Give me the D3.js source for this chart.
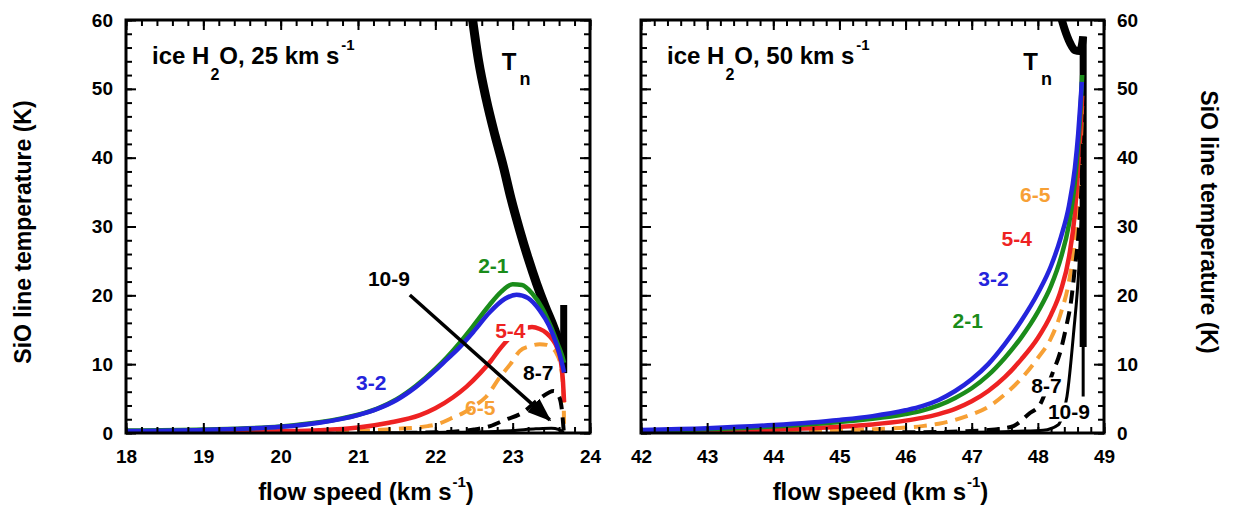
<!DOCTYPE html>
<html><head><meta charset="utf-8">
<script src="https://cdn.jsdelivr.net/npm/d3@7"></script>
<style>
body{margin:0;background:#fff}
svg{display:block}
text{font-family:"Liberation Sans",Arial,Helvetica,sans-serif;font-weight:bold;fill:#000}
</style>
</head><body>
<svg id="c" width="1236" height="508"></svg>
<script>
// ---------- tick labels ----------
const xTicksLeft = [18, 19, 20, 21, 22, 23, 24];
const xTicksRight = [42, 43, 44, 45, 46, 47, 48, 49];
const yTicks = [0, 10, 20, 30, 40, 50, 60];

// ---------- left panel: ice H2O, 25 km/s  [flow speed, temperature] ----------
const L_Tn = [[22.47,61],[22.56,54],[22.66,48.4],[22.77,43.3],[22.88,38.7],[22.98,34],[23.09,29.5],[23.2,25.4],[23.31,21.7],[23.42,18.4],[23.53,15.4],[23.6,13.2],[23.645,11.5]];
const L_TnBar = [[23.66,8.7],[23.66,18.6]];
const L_21 = [[18,0.35],[19,0.5],[20,0.95],[20.5,1.55],[21,2.65],[21.25,3.55],[21.5,4.9],[21.75,6.85],[22.0,9.3],[22.15,11.0],[22.3,12.9],[22.5,15.7],[22.7,18.6],[22.85,20.5],[23.0,21.6],[23.12,21.5],[23.25,20.3],[23.38,18.2],[23.5,15.3],[23.58,13.0],[23.64,11.2],[23.665,10.2]];
const L_32 = [[18,0.3],[19,0.45],[20,0.9],[20.5,1.5],[21,2.6],[21.25,3.5],[21.5,4.8],[21.75,6.7],[22.0,9.1],[22.15,10.7],[22.3,12.3],[22.5,14.8],[22.7,17.5],[22.9,19.5],[23.05,20.1],[23.2,19.6],[23.35,17.8],[23.47,15.6],[23.57,12.8],[23.63,10.5],[23.665,8.8]];
const L_54 = [[18,0.05],[19,0.1],[20,0.25],[20.5,0.4],[21,0.8],[21.4,1.5],[21.8,2.6],[22.0,3.6],[22.23,5.2],[22.4,6.7],[22.58,8.7],[22.72,10.5],[22.84,12.3],[22.97,13.9],[23.1,15.0],[23.25,15.4],[23.35,15.1],[23.44,14.5],[23.52,13.5],[23.57,12.5],[23.62,10.6],[23.65,7.6],[23.665,4.5]];
const L_65 = [[18,0.02],[19,0.04],[20,0.1],[21,0.3],[21.5,0.6],[21.9,1.0],[22.06,1.4],[22.2,2.1],[22.36,2.9],[22.5,3.9],[22.66,5.3],[22.84,8.2],[22.97,10.0],[23.09,11.9],[23.22,12.6],[23.35,12.9],[23.44,12.8],[23.5,12.4],[23.57,11.5],[23.62,9.8],[23.65,7],[23.662,3],[23.665,0.2]];
const L_87 = [[21.6,0.03],[22.0,0.1],[22.3,0.25],[22.5,0.5],[22.71,1.0],[22.9,1.9],[23.12,2.9],[23.35,5.0],[23.53,6.1],[23.6,5.3],[23.64,3],[23.66,0.3]];
const L_109 = [[21.0,0.02],[22.0,0.08],[22.5,0.15],[23.0,0.35],[23.3,0.6],[23.5,0.7],[23.6,0.5],[23.66,0.1]];
const L_arrow = [[21.67,20.05],[23.48,1.9]];

// ---------- right panel: ice H2O, 50 km/s ----------
const R_Tn = [[48.32,61.5],[48.4,58.8],[48.49,56.6],[48.56,55.6],[48.63,55.5],[48.665,56.3],[48.685,57.6]];
const R_TnBar = [[48.685,57.6],[48.685,12.5]];
const R_TnTail = [[48.685,12.5],[48.685,5.3]];
const R_21 = [[42,0.35],[43,0.55],[44,0.95],[45,1.6],[45.5,2.05],[46,2.75],[46.25,3.25],[46.5,4.0],[46.75,5.1],[47,6.5],[47.25,8.4],[47.5,10.9],[47.75,13.9],[48,17.6],[48.2,21.4],[48.35,25.5],[48.47,30.3],[48.56,36.5],[48.61,42],[48.645,47],[48.67,52]];
const R_32 = [[42,0.45],[43,0.7],[44,1.16],[45,1.9],[45.5,2.45],[46,3.3],[46.25,3.9],[46.5,4.8],[46.75,6.1],[47,7.8],[47.25,10.0],[47.5,12.9],[47.75,16.3],[48,20.3],[48.2,24.3],[48.35,28.5],[48.47,33],[48.56,38.5],[48.61,43.5],[48.64,47.5],[48.665,51]];
const R_54 = [[42,0.15],[43,0.3],[44,0.5],[45,0.9],[45.5,1.25],[46,1.8],[46.25,2.2],[46.5,2.75],[46.75,3.5],[47,4.6],[47.25,6.1],[47.5,8.1],[47.75,10.7],[48,13.8],[48.2,17.2],[48.35,20.8],[48.47,25.5],[48.56,32],[48.61,38.7],[48.645,44],[48.67,49]];
const R_65 = [[42,0.05],[44,0.15],[45,0.35],[45.5,0.55],[46,0.8],[46.25,1.0],[46.5,1.35],[46.75,1.9],[47,2.7],[47.25,3.8],[47.5,5.6],[47.75,7.9],[48,10.9],[48.2,13.8],[48.35,17.5],[48.47,22],[48.56,28],[48.61,33.9],[48.645,41],[48.67,47.5]];
const R_87 = [[45,0.05],[46.5,0.15],[47.2,0.4],[47.5,0.7],[47.63,1.0],[47.88,2.9],[48.03,4.1],[48.13,6.3],[48.23,8.9],[48.33,11.5],[48.43,15.5],[48.5,19],[48.56,24],[48.62,29.5],[48.66,36],[48.68,42]];
const R_109 = [[45.5,0.02],[47,0.1],[47.7,0.25],[48.08,0.4],[48.31,1.2],[48.38,2.8],[48.44,5.3],[48.54,14.5],[48.62,24],[48.66,32],[48.69,40]];

// ---------- curve labels [text, speed, temperature] ----------
const L_labels = [["2-1",22.75,23.2],["10-9",21.4,21.3],["3-2",21.17,6.25],["5-4",22.97,13.8],["6-5",22.58,2.6],["8-7",23.33,7.7]];
const R_labels = [["6-5",47.96,33.6],["5-4",47.68,27.1],["3-2",47.33,21.3],["2-1",46.94,15.2],["8-7",48.13,5.75],["10-9",48.47,2.1]];
const L_TnLabel = [22.86,52.7];
const R_TnLabel = [47.78,52.7];

// ---------- styles ----------
const COL = {"2-1":"#1a8c1a","3-2":"#2424dc","5-4":"#ee2222","6-5":"#f7a035","8-7":"#000","10-9":"#000"};

const svg = d3.select("#c");
svg.append("rect").attr("width",1236).attr("height",508).attr("fill","#fff");
const defs = svg.append("defs");
defs.append("marker").attr("id","ah").attr("markerUnits","userSpaceOnUse")
  .attr("viewBox","0 0 24 18").attr("refX",22).attr("refY",9)
  .attr("markerWidth",24).attr("markerHeight",18).attr("orient","auto")
  .append("path").attr("d","M0,0 L24,9 L0,18 Z").attr("fill","#000");

const y = d3.scaleLinear().domain([0,60]).range([433,20]);

function drawPanel(cfg){
  const x = d3.scaleLinear().domain(cfg.domain).range(cfg.range);
  const g = svg.append("g");
  const cid = "clip"+cfg.id;
  defs.append("clipPath").attr("id",cid).append("rect")
    .attr("x",cfg.range[0]).attr("y",20).attr("width",cfg.range[1]-cfg.range[0]).attr("height",413);
  const plot = g.append("g").attr("clip-path",`url(#${cid})`);
  const line = d3.line().x(d=>x(d[0])).y(d=>y(d[1])).curve(d3.curveMonotoneX);
  const lin = d3.line().x(d=>x(d[0])).y(d=>y(d[1]));

  cfg.series.forEach(s=>{
    plot.append("path").datum(s.data).attr("d", s.linear?lin:line)
      .attr("fill","none").attr("stroke",s.color).attr("stroke-width",s.w)
      .attr("stroke-dasharray",s.dash||null).attr("stroke-linecap","butt")
      .attr("stroke-linejoin","round");
  });

  // labels
  const lg = g.append("g");
  cfg.labels.forEach(l=>{
    const t = lg.append("text").attr("x",x(l[1])).attr("y",y(l[2]))
      .attr("text-anchor","middle").attr("font-size",21)
      .style("fill",COL[l[0]]).text(l[0]);
    if(cfg.bg.includes(l[0])){
      const b = t.node().getBBox();
      lg.insert("rect","text").attr("x",b.x-2).attr("y",b.y+3).attr("width",b.width+4).attr("height",b.height-4).attr("fill","#fff");
    }
  });
  if(cfg.arrow){
    g.append("path").datum(cfg.arrow).attr("d",lin).attr("stroke","#000").attr("stroke-width",3.5)
      .attr("fill","none").attr("marker-end","url(#ah)");
  }
  // Tn label
  const tn = g.append("text").attr("x",x(cfg.tn[0])).attr("y",y(cfg.tn[1])).attr("font-size",24);
  tn.append("tspan").text("T");
  tn.append("tspan").attr("font-size",18).attr("dx",3).attr("dy",15).text("n");

  // title
  const tt = g.append("text").attr("x",cfg.range[0]+26).attr("y",64).attr("font-size",24);
  tt.append("tspan").text("ice H");
  tt.append("tspan").attr("font-size",16).attr("dx",1).attr("dy",16).text("2");
  tt.append("tspan").attr("dy",-16).text("O, "+cfg.speed+" km s");
  tt.append("tspan").attr("font-size",15).attr("dx",2).attr("dy",-14).text("-1");

  // axes (ticks inward)
  const xMinor = d3.range(cfg.domain[0], cfg.domain[1]+1e-6, 0.2);
  const yMinor = d3.range(0, 60.001, 2);
  const ax = g.append("g").attr("class","axes");
  const addAxis=(gen,tr)=>{const a=ax.append("g").attr("transform",tr).call(gen);a.select(".domain").remove();a.selectAll("line").attr("stroke","#000").attr("stroke-width",2);a.selectAll("text").attr("font-size",19).attr("font-family",null);return a;};
  addAxis(d3.axisBottom(x).tickValues(xMinor).tickSize(-6).tickFormat(""),`translate(0,433)`);
  addAxis(d3.axisBottom(x).tickValues(cfg.xTicks).tickSize(-10).tickPadding(17).tickFormat(d3.format("d")),`translate(0,433)`);
  addAxis(d3.axisTop(x).tickValues(xMinor).tickSize(-6).tickFormat(""),`translate(0,20)`);
  addAxis(d3.axisTop(x).tickValues(cfg.xTicks).tickSize(-10).tickFormat(""),`translate(0,20)`);
  addAxis(d3.axisLeft(y).tickValues(yMinor).tickSize(-6).tickFormat(""),`translate(${cfg.range[0]},0)`);
  addAxis(d3.axisLeft(y).tickValues(yTicks).tickSize(-10).tickPadding(13).tickFormat(cfg.yLeftLabels?d3.format("d"):""),`translate(${cfg.range[0]},0)`);
  addAxis(d3.axisRight(y).tickValues(yMinor).tickSize(-6).tickFormat(""),`translate(${cfg.range[1]},0)`);
  addAxis(d3.axisRight(y).tickValues(yTicks).tickSize(-10).tickPadding(13).tickFormat(cfg.yRightLabels?d3.format("d"):""),`translate(${cfg.range[1]},0)`);

  g.append("rect").attr("x",cfg.range[0]).attr("y",20).attr("width",cfg.range[1]-cfg.range[0]).attr("height",413)
    .attr("fill","none").attr("stroke","#000").attr("stroke-width",3);

  // x title
  const xt = g.append("text").attr("x",(cfg.range[0]+cfg.range[1])/2+8).attr("y",500).attr("text-anchor","middle").attr("font-size",24);
  xt.append("tspan").text("flow speed (km s");
  xt.append("tspan").attr("font-size",15).attr("dx",1).attr("dy",-13).text("-1");
  xt.append("tspan").attr("dy",13).text(")");
}

drawPanel({id:"L",domain:[18,24],range:[126,590],xTicks:xTicksLeft,speed:25,yLeftLabels:true,yRightLabels:false,
  series:[
    {data:L_Tn,color:"#000",w:9},
    {data:L_TnBar,color:"#000",w:7,linear:true},
    {data:L_65,color:COL["6-5"],w:4,dash:"13,8"},
    {data:L_54,color:COL["5-4"],w:4.5},
    {data:L_21,color:COL["2-1"],w:4.5},
    {data:L_32,color:COL["3-2"],w:4.5},
    {data:L_87,color:"#000",w:4,dash:"13,8"},
    {data:L_109,color:"#000",w:3}
  ],
  labels:L_labels,bg:["5-4"],arrow:L_arrow,tn:L_TnLabel});

drawPanel({id:"R",domain:[42,49],range:[641,1104],xTicks:xTicksRight,speed:50,yLeftLabels:false,yRightLabels:true,
  series:[
    {data:R_Tn,color:"#000",w:8},
    {data:R_TnBar,color:"#000",w:7,linear:true},
    {data:R_TnTail,color:"#000",w:3,linear:true},
    {data:R_65,color:COL["6-5"],w:4,dash:"13,8"},
    {data:R_54,color:COL["5-4"],w:4.5},
    {data:R_21,color:COL["2-1"],w:4.5},
    {data:R_32,color:COL["3-2"],w:4.5},
    {data:R_87,color:"#000",w:4,dash:"13,8"},
    {data:R_109,color:"#000",w:3}
  ],
  labels:R_labels,bg:["8-7","10-9"],tn:R_TnLabel});

// y titles
svg.append("text").attr("transform","translate(31,232) rotate(-90)").attr("text-anchor","middle").attr("font-size",23).text("SiO line temperature (K)");
svg.append("text").attr("transform","translate(1201,222) rotate(90)").attr("text-anchor","middle").attr("font-size",23).text("SiO line temperature (K)");
</script>
</body></html>
